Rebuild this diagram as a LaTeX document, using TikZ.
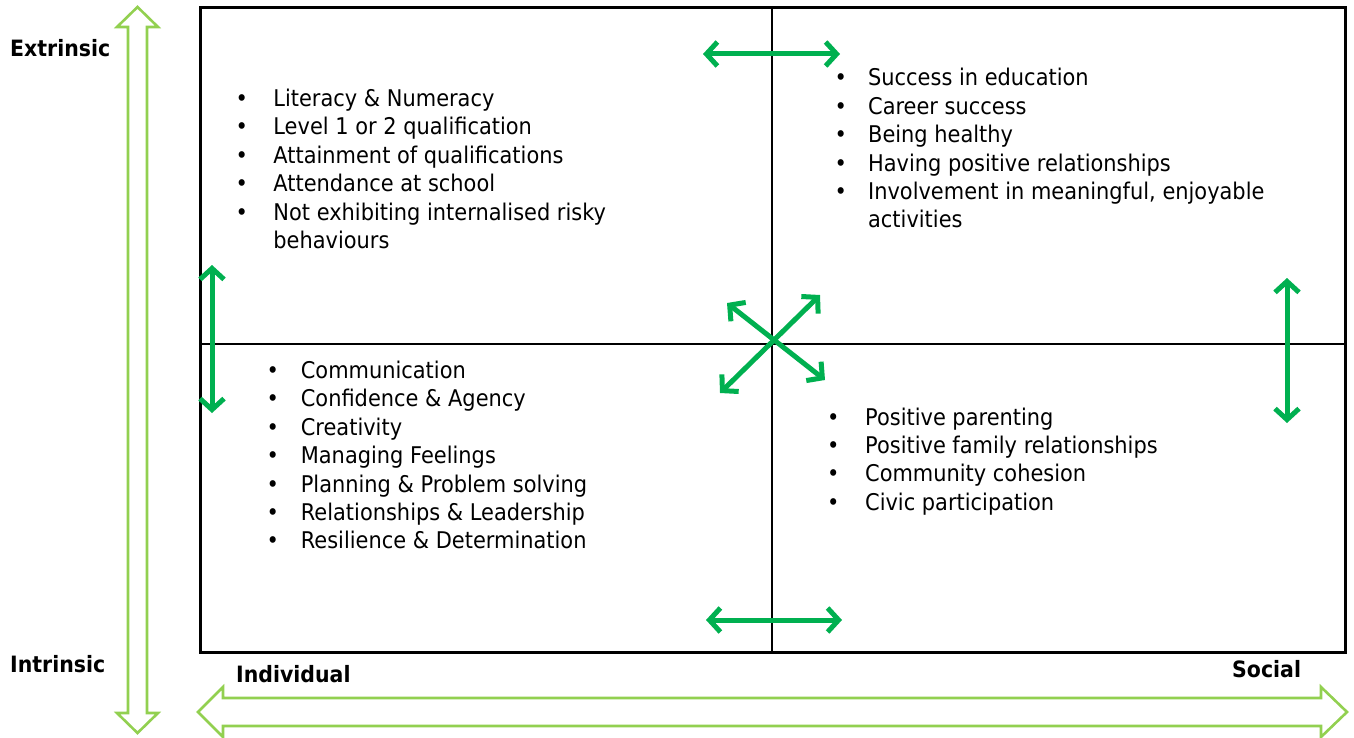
\documentclass[tikz,border=0pt]{standalone}
\usepackage{fontspec}
\setmainfont{DejaVu Sans}[FakeStretch=0.91]
\usepackage{tikz}
\usetikzlibrary{arrows.meta,positioning}
\definecolor{arrowgreen}{RGB}{0,176,80}
\definecolor{axisgreen}{RGB}{146,208,80}

\begin{document}
\begin{tikzpicture}[x=1pt,y=-1pt]
\tikzstyle{axisarrow}=[draw=axisgreen,line width=2.6pt,fill=white,line join=miter]
\tikzstyle{arrow}=[draw=arrowgreen,line width=5pt,{Straight Barb[length=11pt,width=24pt]}-{Straight Barb[length=11pt,width=24pt]}]
\tikzstyle{axislabel}=[anchor=base west,inner sep=0pt,font=\fontsize{22.5}{26}\selectfont\bfseries]
\tikzstyle{itemlist}=[anchor=base west,inner sep=0pt,font=\fontsize{23}{28.4}\selectfont]
\useasboundingbox (0,0) rectangle (1354,738);
\draw [axisarrow] (137.5,7) -- (158,27) -- (147,27) -- (147,713) -- (158,713) -- (137.5,733)
  -- (117,713) -- (128,713) -- (128,27) -- (117,27) -- cycle;
\draw [axisarrow] (198,712) -- (223,687) -- (223,698) -- (1321,698) -- (1321,687) -- (1347,712)
  -- (1321,737) -- (1321,726) -- (223,726) -- (223,737) -- cycle;
\draw [line width=3pt] (200,8) rectangle (1345,652);
\draw [line width=2.4pt] (772,8) -- (772,652);
\draw [line width=2.4pt] (200,344) -- (1345,344);
\node [axislabel] (extr) at (10,57) {Extrinsic};
\node [axislabel] (intr) at (10,672) {Intrinsic};
\node [axislabel] (indiv) at (236,682) {Individual};
\node [axislabel] (soc) at (1232,677) {Social};
\node [itemlist] (extind) at (235.5,106.5) {\begin{tabular}[t]{@{}l@{\hspace{25.4pt}}l@{}}
\textbullet & Literacy \& Numeracy\\
\textbullet & Level 1 or 2 qualification\\
\textbullet & Attainment of qualifications\\
\textbullet & Attendance at school\\
\textbullet & Not exhibiting internalised risky\\
 & behaviours
\end{tabular}};
\node [itemlist] (extsoc) at (834.3,86) {\begin{tabular}[t]{@{}l@{\hspace{21.3pt}}l@{}}
\textbullet & Success in education\\
\textbullet & Career success\\
\textbullet & Being healthy\\
\textbullet & Having positive relationships\\
\textbullet & Involvement in meaningful, enjoyable\\
 & activities
\end{tabular}};
\node [itemlist] (intind) at (266.5,378.5) {\begin{tabular}[t]{@{}l@{\hspace{21.8pt}}l@{}}
\textbullet & Communication\\
\textbullet & Confidence \& Agency\\
\textbullet & Creativity\\
\textbullet & Managing Feelings\\
\textbullet & Planning \& Problem solving\\
\textbullet & Relationships \& Leadership\\
\textbullet & Resilience \& Determination
\end{tabular}};
\node [itemlist] (intsoc) at (826.8,425) {\begin{tabular}[t]{@{}l@{\hspace{25.8pt}}l@{}}
\textbullet & Positive parenting\\
\textbullet & Positive family relationships\\
\textbullet & Community cohesion\\
\textbullet & Civic participation
\end{tabular}};
\coordinate (topl) at (703,54);
\coordinate (topr) at (840,54);
\coordinate (botl) at (706,620);
\coordinate (botr) at (842,620);
\coordinate (leftu) at (212,265);
\coordinate (leftd) at (212,413);
\coordinate (rightu) at (1287,278);
\coordinate (rightd) at (1287,423);
\coordinate (crossa) at (720,393);
\coordinate (crossb) at (820,295);
\coordinate (crossc) at (727,303);
\coordinate (crossd) at (825,380);
\draw [arrow] (topl) -- (topr);
\draw [arrow] (botl) -- (botr);
\draw [arrow] (leftu) -- (leftd);
\draw [arrow] (rightu) -- (rightd);
\draw [arrow] (crossa) -- (crossb);
\draw [arrow] (crossc) -- (crossd);
\end{tikzpicture}
\end{document}
